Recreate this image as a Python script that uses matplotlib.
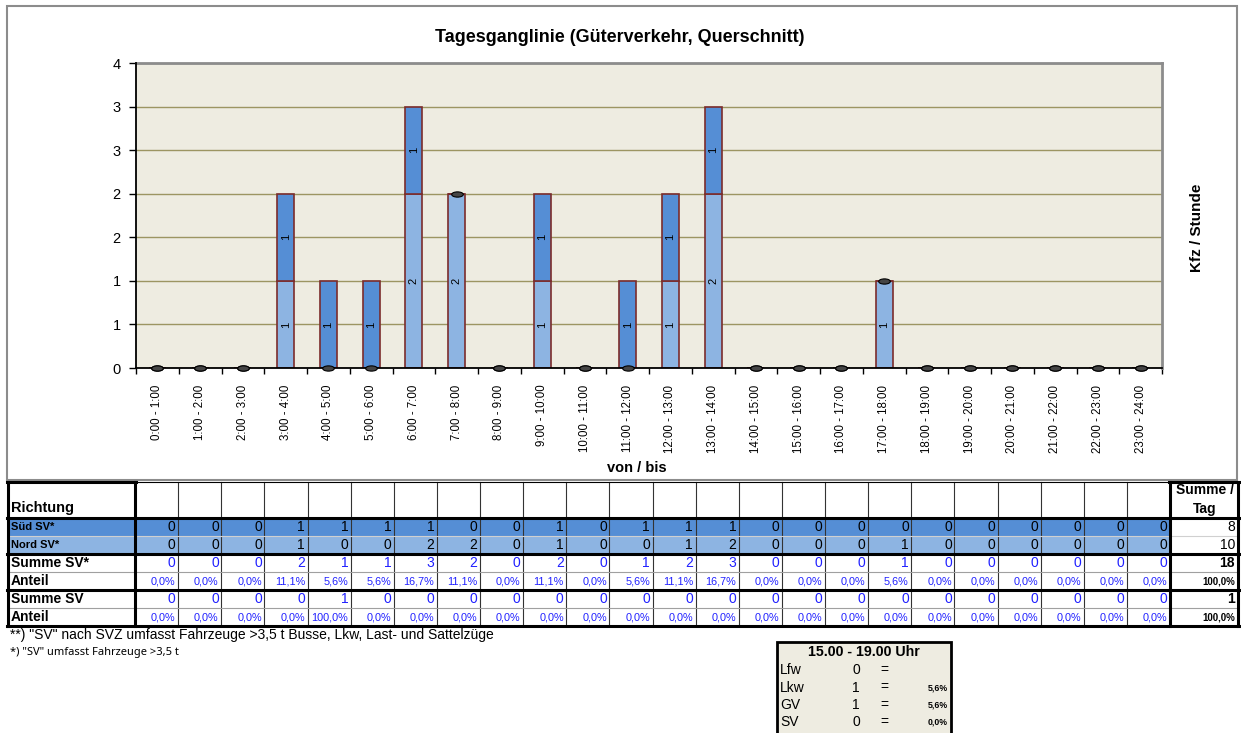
import numpy as np
import matplotlib
matplotlib.use("Agg")
import matplotlib.pyplot as plt
from matplotlib.patches import Rectangle
from matplotlib.path import Path
from matplotlib.transforms import Affine2D

plt.rcParams['font.family'] = ['Liberation Sans', 'DejaVu Sans']

# daten
stunden = [f"{h}:00 - {h + 1}:00" for h in range(24)]
sued_sv = [0, 0, 0, 1, 1, 1, 1, 0, 0, 1, 0, 1, 1, 1, 0, 0, 0, 0, 0, 0, 0, 0, 0, 0]
nord_sv = [0, 0, 0, 1, 0, 0, 2, 2, 0, 1, 0, 0, 1, 2, 0, 0, 0, 1, 0, 0, 0, 0, 0, 0]
summe_sv = [0, 0, 0, 0, 1, 0, 0, 0, 0, 0, 0, 0, 0, 0, 0, 0, 0, 0, 0, 0, 0, 0, 0, 0]
y_ticks = [0, 0.5, 1, 1.5, 2, 2.5, 3, 3.5]
y_labels = ['0', '1', '1', '2', '2', '3', '3', '4']

box_titel = "15.00 - 19.00 Uhr"
box_zeilen = ["Lfw", "Lkw", "GV", "SV"]
box_werte = [0, 1, 1, 0]
box_anteil = ["", "5,6%", "5,6%", "0,0%"]

DUNKEL = '#558ED5'
HELL = '#8DB4E2'
RAND = '#7B2C2C'
BLAU = '#2020ff'


def pct(v):
    return f"{v * 100:.1f}%".replace('.', ',')


W, H = 1241, 733
fig = plt.figure(figsize=(W / 100, H / 100), dpi=100)

# hintergrund-achse in pixeln fuer rahmen und tabelle
bg = fig.add_axes([0, 0, 1, 1])
bg.set_xlim(0, W)
bg.set_ylim(H, 0)
bg.axis('off')
bg.add_patch(Rectangle((7, 6), 1230, 474, fill=False, ec='#8c8c8c', lw=1.5))

# diagramm
ax = fig.add_axes([136 / W, 1 - 368 / H, 1026 / W, 305 / H])
ax.set_facecolor('#EEECE1')
x = np.arange(24)
nord = np.array(nord_sv)
sued = np.array(sued_sv)

b1 = ax.bar(x, nord, 0.4, color=HELL, edgecolor=RAND, lw=1.2, zorder=3)
b2 = ax.bar(x, sued, 0.4, bottom=nord, color=DUNKEL, edgecolor=RAND, lw=1.2, zorder=3)
ax.bar_label(b1, labels=[str(v) if v else '' for v in nord], label_type='center',
             rotation=90, fontsize=8)
ax.bar_label(b2, labels=[str(v) if v else '' for v in sued], label_type='center',
             rotation=90, fontsize=8)

# nullwerte als kleine ellipsen
ell = Path.unit_circle().transformed(Affine2D().scale(1, 0.45))
ax.scatter(x[nord == 0], np.zeros((nord == 0).sum()), marker=ell, s=70,
           color='#454545', edgecolor='black', lw=0.8, zorder=5, clip_on=False)
ax.scatter(x[sued == 0], nord[sued == 0], marker=ell, s=70,
           color='#454545', edgecolor='black', lw=0.8, zorder=5, clip_on=False)

ax.set_xlim(-0.5, 23.5)
ax.set_ylim(0, 3.5)
ax.set_yticks(y_ticks)
ax.set_yticklabels(y_labels, fontsize=10.5)
ax.tick_params(axis='y', direction='out', length=5, width=1, pad=6)
ax.set_xticks(x)
ax.set_xticklabels(stunden, rotation=90, fontsize=8.3)
ax.set_xticks(np.arange(-0.5, 24, 1), minor=True)
ax.tick_params(axis='x', which='major', length=0, pad=12)
ax.tick_params(axis='x', which='minor', direction='out', length=4, width=1)
ax.yaxis.grid(True, color='#9C9562', lw=1)
ax.set_axisbelow(True)
for s in ['left', 'bottom']:
    ax.spines[s].set_linewidth(1.3)
    ax.spines[s].set_zorder(4)
for s in ['top', 'right']:
    ax.spines[s].set_color('#8c8c8c')
    ax.spines[s].set_linewidth(2)

fig.text(620 / W, 1 - 38 / H, "Tagesganglinie (Güterverkehr, Querschnitt)",
         ha='center', va='center', fontsize=13, fontweight='bold')
fig.text(637 / W, 1 - 468 / H, "von / bis", ha='center', va='center',
         fontsize=10.5, fontweight='bold')
fig.text(1197 / W, 1 - 228 / H, "Kfz / Stunde", ha='center', va='center',
         rotation=90, fontsize=11, fontweight='bold')

# tabelle
hx = 135 + np.arange(25) * (1170 - 135) / 24
ry = [482, 518, 536, 554, 572, 590, 608, 626]

bg.add_patch(Rectangle((8, ry[1]), 1170 - 8, ry[2] - ry[1], color=DUNKEL, lw=0))
bg.add_patch(Rectangle((8, ry[2]), 1170 - 8, ry[3] - ry[2], color=HELL, lw=0))

for xv in hx[1:-1]:
    bg.plot([xv, xv], [ry[0], ry[-1]], color='#333333', lw=0.8)
bg.plot([135, 1170], [ry[0], ry[0]], color='black', lw=0.8)
for yv, c in [(ry[2], '#d0d0d0'), (ry[4], '#a0a0a0'), (ry[6], '#a0a0a0')]:
    bg.plot([8, 1238], [yv, yv], color=c, lw=0.8)
for yv in [ry[1], ry[3], ry[5], ry[7]]:
    bg.plot([7, 1239], [yv, yv], color='black', lw=2.2)
for xv in [8, 135, 1170, 1238]:
    bg.plot([xv, xv], [ry[0], ry[-1]], color='black', lw=2.2)
bg.plot([7, 136], [ry[0], ry[0]], color='black', lw=2.2)
bg.plot([1169, 1239], [ry[0], ry[0]], color='black', lw=2.2)

bg.text(11, 508, "Richtung", ha='left', va='center', fontsize=10.5, fontweight='bold')
bg.text(1205, 490, "Summe /", ha='center', va='center', fontsize=10, fontweight='bold')
bg.text(1205, 509, "Tag", ha='center', va='center', fontsize=10, fontweight='bold')

summe_stern = sued + nord
gesamt = summe_stern.sum()
zeilen = [
    ("Süd SV*", 8, [str(v) for v in sued], 'black', 10, str(sued.sum()), 'normal', 10),
    ("Nord SV*", 8, [str(v) for v in nord], 'black', 10, str(nord.sum()), 'normal', 10),
    ("Summe SV*", 10, [str(v) for v in summe_stern], BLAU, 10, str(gesamt), 'bold', 10),
    ("Anteil", 10, [pct(v / gesamt) for v in summe_stern], BLAU, 7.8, pct(1), 'bold', 7),
    ("Summe SV", 10, [str(v) for v in summe_sv], BLAU, 10, str(sum(summe_sv)), 'bold', 10),
    ("Anteil", 10, [pct(v / sum(summe_sv)) for v in summe_sv], BLAU, 7.8, pct(1), 'bold', 7),
]
for r, (name, nfs, werte, farbe, fs, summe, sw, sfs) in enumerate(zeilen):
    yc = (ry[r + 1] + ry[r + 2]) / 2
    bg.text(11, yc, name, ha='left', va='center', fontsize=nfs, fontweight='bold')
    for i, t in enumerate(werte):
        bg.text(hx[i + 1] - 2.5, yc, t, ha='right', va='center', fontsize=fs, color=farbe)
    bg.text(1235, yc, summe, ha='right', va='center', fontsize=sfs, fontweight=sw)

# fussnoten
bg.text(10, 635, '**) "SV" nach SVZ umfasst Fahrzeuge >3,5 t Busse, Lkw, Last- und Sattelzüge',
        ha='left', va='center', fontsize=10)
bg.text(10, 652, '*) "SV" umfasst Fahrzeuge >3,5 t', ha='left', va='center',
        fontsize=8, family=['Noto Sans', 'DejaVu Sans'])

# kasten unten
bg.add_patch(Rectangle((777, 642), 174, 95, fc='#EEECE1', ec='black', lw=2))
bg.text(864, 652, box_titel, ha='center', va='center', fontsize=10.2, fontweight='bold')
for k, (name, wert, ant) in enumerate(zip(box_zeilen, box_werte, box_anteil)):
    yc = 670 + k * 17.5
    bg.text(780, yc, name, ha='left', va='center', fontsize=10)
    bg.text(856, yc, str(wert), ha='center', va='center', fontsize=10)
    bg.text(884, yc, "=", ha='center', va='center', fontsize=10)
    bg.text(948, yc, ant, ha='right', va='center', fontsize=6.3, fontweight='bold')

fig.savefig("out.png", dpi=100)
